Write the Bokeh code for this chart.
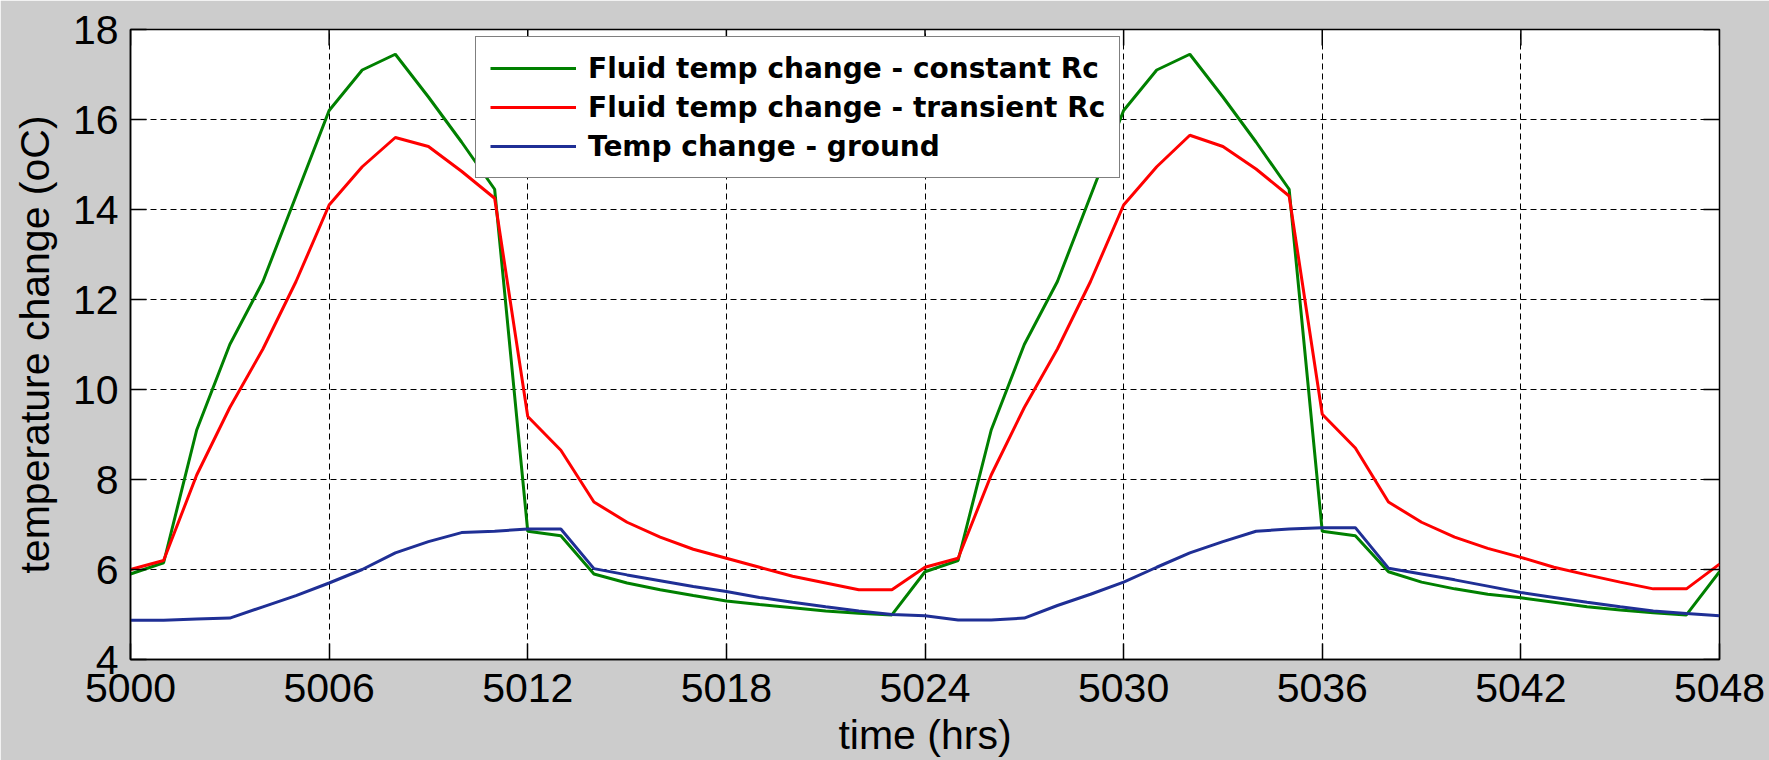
import math
from bokeh.plotting import figure
from bokeh.models import FixedTicker, Legend, LegendItem, Range1d
from bokeh.embed import file_html
from bokeh.resources import INLINE

# ---- data ----
hours = list(range(5000, 5049))

constant_rc = [5.9, 6.15, 9.1, 11.0, 12.4, 14.3, 16.2, 17.1, 17.45, 16.5,
               15.5, 14.45, 6.85, 6.75, 5.9, 5.7, 5.55, 5.42, 5.3, 5.22,
               5.15, 5.08, 5.03, 4.99, 5.95, 6.2, 9.1, 11.0, 12.4, 14.3,
               16.2, 17.1, 17.45, 16.5, 15.5, 14.45, 6.85, 6.75, 5.95, 5.72,
               5.57, 5.45, 5.37, 5.27, 5.17, 5.1, 5.04, 4.99, 5.95]

transient_rc = [6.0, 6.2, 8.1, 9.6, 10.9, 12.4, 14.1, 14.95, 15.6, 15.4,
                14.85, 14.25, 9.4, 8.65, 7.5, 7.05, 6.72, 6.45, 6.25, 6.05,
                5.85, 5.7, 5.55, 5.55, 6.05, 6.25, 8.1, 9.6, 10.9, 12.4,
                14.1, 14.95, 15.65, 15.4, 14.9, 14.3, 9.45, 8.7, 7.5, 7.05,
                6.72, 6.47, 6.27, 6.05, 5.88, 5.72, 5.57, 5.57, 6.12]

ground = [4.87, 4.87, 4.9, 4.92, 5.17, 5.42, 5.7, 6.0, 6.37, 6.62,
          6.82, 6.85, 6.9, 6.9, 6.02, 5.88, 5.75, 5.62, 5.51, 5.38,
          5.27, 5.17, 5.08, 5.0, 4.97, 4.88, 4.88, 4.92, 5.2, 5.45,
          5.72, 6.05, 6.37, 6.62, 6.85, 6.9, 6.93, 6.93, 6.03, 5.9,
          5.77, 5.63, 5.49, 5.38, 5.27, 5.17, 5.08, 5.02, 4.97]

x_ticks = [5000, 5006, 5012, 5018, 5024, 5030, 5036, 5042, 5048]
y_ticks = [4, 6, 8, 10, 12, 14, 16, 18]

labels = ["Fluid temp change - constant Rc",
          "Fluid temp change - transient Rc",
          "Temp change - ground"]
colors = ["#008000", "#ff0000", "#1f2f95"]

FONT = "Liberation Sans"
X_MIN, X_MAX = x_ticks[0], x_ticks[-1]
Y_MIN, Y_MAX = y_ticks[0], y_ticks[-1]

p = figure(width=1769, height=760, output_backend="svg", toolbar_location=None,
           x_range=Range1d(X_MIN, X_MAX), y_range=Range1d(Y_MIN, Y_MAX),
           min_border_left=130, min_border_right=50,
           min_border_top=29, min_border_bottom=101)

p.border_fill_color = "#cccccc"
p.background_fill_color = "white"
p.outline_line_color = "black"
p.outline_line_width = 1.5

# grid
for g in (p.xgrid, p.ygrid):
    g.grid_line_color = "black"
    g.grid_line_dash = "6 4"
    g.grid_line_width = 1

p.xaxis.ticker = FixedTicker(ticks=x_ticks)
p.yaxis.ticker = FixedTicker(ticks=y_ticks)
p.xgrid.ticker = FixedTicker(ticks=x_ticks)
p.ygrid.ticker = FixedTicker(ticks=y_ticks)

for ax in (p.xaxis[0], p.yaxis[0]):
    ax.axis_line_color = "black"
    ax.axis_line_width = 1.5
    ax.major_tick_in = 16
    ax.major_tick_out = 0
    ax.major_tick_line_color = "black"
    ax.major_tick_line_width = 1.5
    ax.minor_tick_line_color = None
    ax.major_label_text_font = FONT
    ax.major_label_text_font_size = "41px"
    ax.major_label_text_color = "black"
    ax.axis_label_text_font = FONT
    ax.axis_label_text_font_size = "41px"
    ax.axis_label_text_font_style = "normal"
    ax.axis_label_text_color = "black"

p.xaxis.axis_label = "time (hrs)"
p.yaxis.axis_label = "temperature change (oC)"
p.xaxis.major_label_standoff = 14
p.xaxis.axis_label_standoff = 7
p.yaxis.major_label_standoff = 12
p.yaxis.axis_label_standoff = 12

renderers = []
for ys, c in zip([constant_rc, transient_rc, ground], colors):
    r = p.line(hours, ys, line_color=c, line_width=3)
    renderers.append(r)

# inward tick marks on the top and right edges of the box (clipped to frame)
p.scatter(x=x_ticks, y=[Y_MAX] * len(x_ticks), marker="dash", size=32,
          angle=math.pi / 2, line_color="black", line_width=1.5)
p.scatter(x=[X_MAX] * len(y_ticks), y=y_ticks, marker="dash", size=32,
          line_color="black", line_width=1.5)

legend = Legend(items=[LegendItem(label=l, renderers=[r]) for l, r in zip(labels, renderers)],
                location=(345, 481))
legend.label_text_font = "DejaVu Sans"
legend.label_text_font_style = "bold"
legend.label_text_font_size = "28px"
legend.label_text_color = "black"
legend.glyph_width = 86
legend.glyph_height = 34
legend.spacing = 5
legend.padding = 14
legend.label_standoff = 12
legend.margin = 0
legend.border_line_color = "black"
legend.border_line_width = 1.5
legend.background_fill_color = "white"
legend.background_fill_alpha = 1.0
p.add_layout(legend, "center")

open("out.html", "w").write(file_html(p, INLINE))
